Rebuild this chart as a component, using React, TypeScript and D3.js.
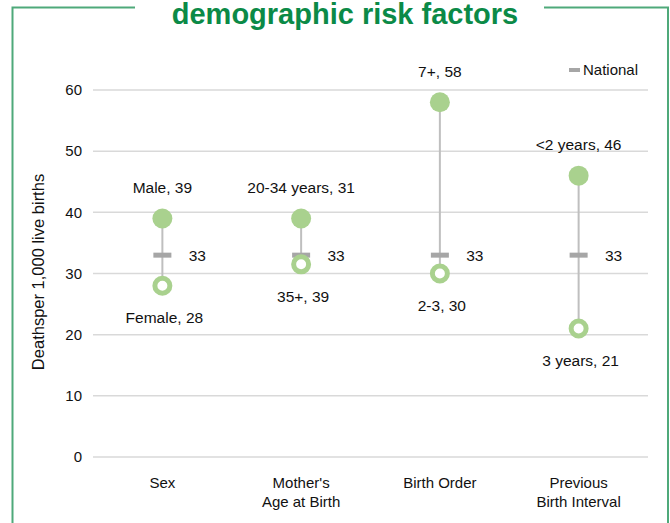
import React from "react";
import * as d3 from "d3";

const categories: string[][] = [["Sex"], ["Mother's", "Age at Birth"], ["Birth Order"], ["Previous", "Birth Interval"]];
const highValues = [39, 39, 58, 46];
const highLabels = ["Male, 39", "20-34 years, 31", "7+, 58", "<2 years, 46"];
const lowValues = [28, 31.5, 30, 21];
const lowLabels = ["Female, 28", "35+, 39", "2-3, 30", "3 years, 21"];
const nationalValues = [33, 33, 33, 33];
const yTicks = [0, 10, 20, 30, 40, 50, 60];

const W = 670;
const H = 523;
const FONT = "'Liberation Sans', Arial, sans-serif";
const GREEN_DOT = "#a9d18e";
const GRAY = "#a6a6a6";

export default function App() {
  const x = d3.scaleBand<number>().domain(d3.range(categories.length)).range([93, 648]);
  const y = d3.scaleLinear().domain([0, 60]).range([457, 90]);
  const cx = (i: number) => (x(i) as number) + x.bandwidth() / 2;

  return (
    <svg width={W} height={H} style={{ position: "absolute", left: 0, top: 0, display: "block", background: "#fff" }} fontFamily={FONT}>
      {/* frame */}
      <path d="M135,7.5 H12.5 V523" fill="none" stroke="#4fa97a" strokeWidth={2} />
      <path d="M544,7.5 H668 V523" fill="none" stroke="#4fa97a" strokeWidth={2} />
      <text x={345} y={24} textAnchor="middle" fontSize={29} fontWeight="bold" fill="#0b8a47">
        demographic risk factors
      </text>

      {/* gridlines and y ticks */}
      {yTicks.map((t) => (
        <g key={t}>
          <line x1={93} x2={648} y1={y(t)} y2={y(t)} stroke="#d9d9d9" strokeWidth={1.5} />
          <text x={82} y={y(t)} dy="0.35em" textAnchor="end" fontSize={15} fill="#111">
            {t}
          </text>
        </g>
      ))}

      {/* y axis title */}
      <text transform={`translate(38,272) rotate(-90)`} textAnchor="middle" dy="0.35em" fontSize={16.5} fill="#111">
        Deathsper 1,000 live births
      </text>

      {/* category labels */}
      {categories.map((lines, i) => (
        <text key={i} x={cx(i)} y={488} textAnchor="middle" fontSize={15} fill="#111">
          {lines.map((l, j) => (
            <tspan key={j} x={cx(i)} dy={j === 0 ? 0 : 19}>
              {l}
            </tspan>
          ))}
        </text>
      ))}

      {/* connectors */}
      {highValues.map((v, i) => (
        <line key={i} x1={cx(i)} x2={cx(i)} y1={y(v)} y2={y(lowValues[i])} stroke="#bfbfbf" strokeWidth={2} />
      ))}

      {/* national markers */}
      {nationalValues.map((v, i) => (
        <g key={i}>
          <rect x={cx(i) - 9} y={y(v) - 2.5} width={18} height={5} fill={GRAY} />
          <text x={cx(i) + 35} y={y(v)} dy="0.35em" textAnchor="middle" fontSize={15.5} fill="#111">
            {v}
          </text>
        </g>
      ))}

      {/* high points */}
      {highValues.map((v, i) => (
        <g key={i}>
          <circle cx={cx(i)} cy={y(v)} r={10} fill={GREEN_DOT} />
          <text x={cx(i)} y={y(v) - 31} dy="0.35em" textAnchor="middle" fontSize={15.5} fill="#111">
            {highLabels[i]}
          </text>
        </g>
      ))}

      {/* low points */}
      {lowValues.map((v, i) => (
        <g key={i}>
          <circle cx={cx(i)} cy={y(v)} r={7.5} fill="#fff" stroke={GREEN_DOT} strokeWidth={5} />
          <text x={cx(i) + 2} y={y(v) + 32} dy="0.35em" textAnchor="middle" fontSize={15.5} fill="#111">
            {lowLabels[i]}
          </text>
        </g>
      ))}

      {/* legend */}
      <rect x={569} y={68} width={11} height={4} fill={GRAY} />
      <text x={583} y={70} dy="0.35em" fontSize={15} fill="#111">
        National
      </text>
    </svg>
  );
}
